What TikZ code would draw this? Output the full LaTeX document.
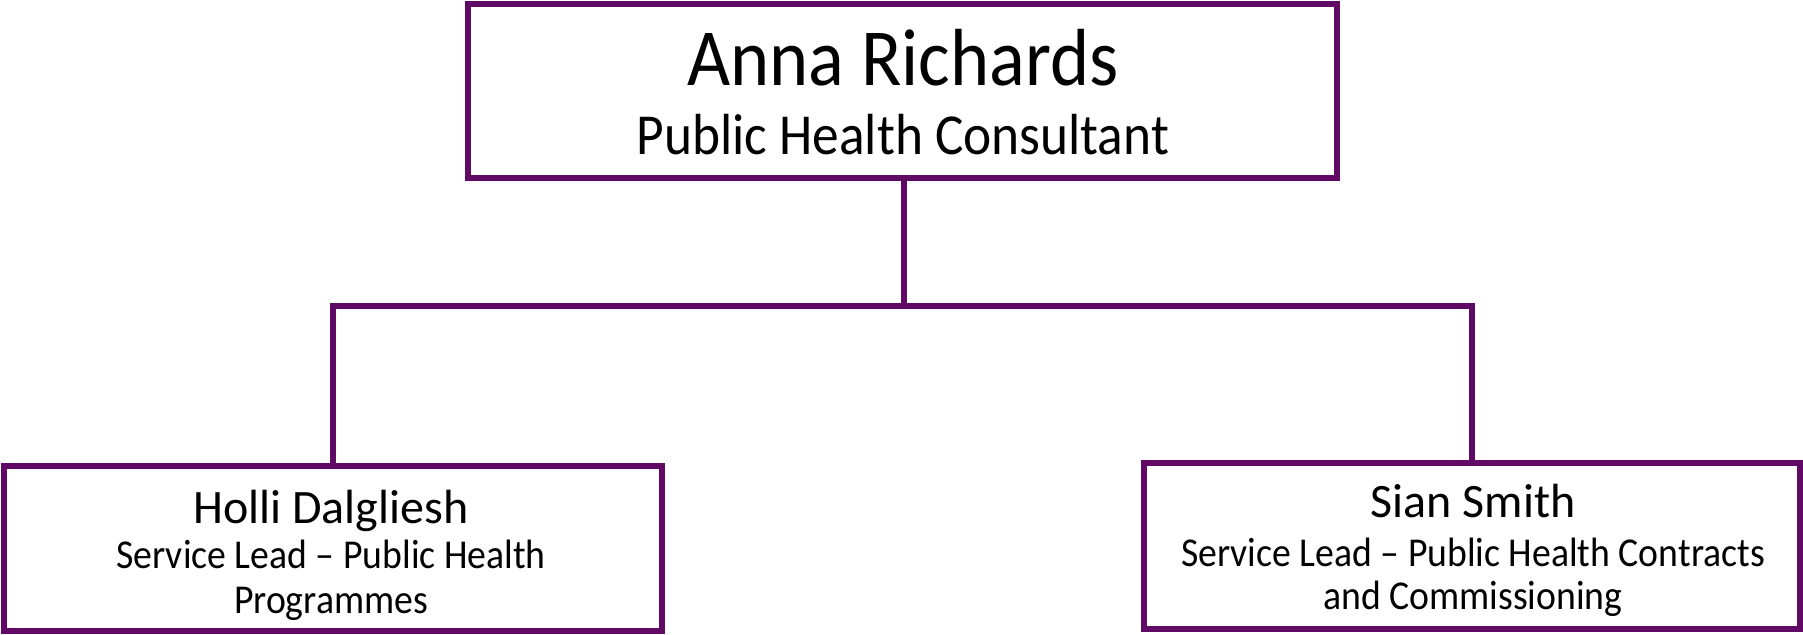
\documentclass[tikz,border=0pt]{standalone}
\usepackage{fontspec}
\setmainfont[FakeStretch=0.92]{Carlito}
\newfontfamily\wideface{Carlito}
\definecolor{plum}{RGB}{96,10,102}
\begin{document}
\begin{tikzpicture}[x=1pt,y=-1pt,
  box/.style={draw=plum,line width=6pt,rectangle,inner sep=0pt,fill=white},
  conn/.style={draw=plum,line width=6pt},
  txt/.style={anchor=base,inner sep=0pt,text=black}]
\useasboundingbox (0,0) rectangle (1803,634);
% boxes
\node[box,minimum width=869pt,minimum height=174pt] (top) at (902.5,91) {};
\node[box,minimum width=658pt,minimum height=165pt] (left) at (333,548.5) {};
\node[box,minimum width=656pt,minimum height=166pt] (right) at (1472,546) {};
% texts
\node[txt,font=\fontsize{81}{90}\selectfont] (topname) at (903,85) {Anna Richards};
\node[txt,font=\fontsize{58}{64}\selectfont] (toptitle) at (903,154) {Public Health Consultant};
\node[txt,font=\wideface\fontsize{48}{54}\selectfont] (leftname) at (331,523) {Holli Dalgliesh};
\node[txt,font=\fontsize{41}{46}\selectfont] (lefttitle1) at (331,568) {Service Lead – Public Health};
\node[txt,font=\fontsize{41}{46}\selectfont] (lefttitle2) at (331,613) {Programmes};
\node[txt,font=\wideface\fontsize{48}{54}\selectfont] (rightname) at (1473,517) {Sian Smith};
\node[txt,font=\fontsize{41}{46}\selectfont] (righttitle1) at (1473,566) {Service Lead – Public Health Contracts};
\node[txt,font=\fontsize{41}{46}\selectfont] (righttitle2) at (1473,609) {and Commissioning};
% connectors
\coordinate (junction) at (904,306);
\draw[conn] (top.south -| junction) -- (junction);
\draw[conn] (left.north) |- (junction) -| (right.north);
\end{tikzpicture}
\end{document}
